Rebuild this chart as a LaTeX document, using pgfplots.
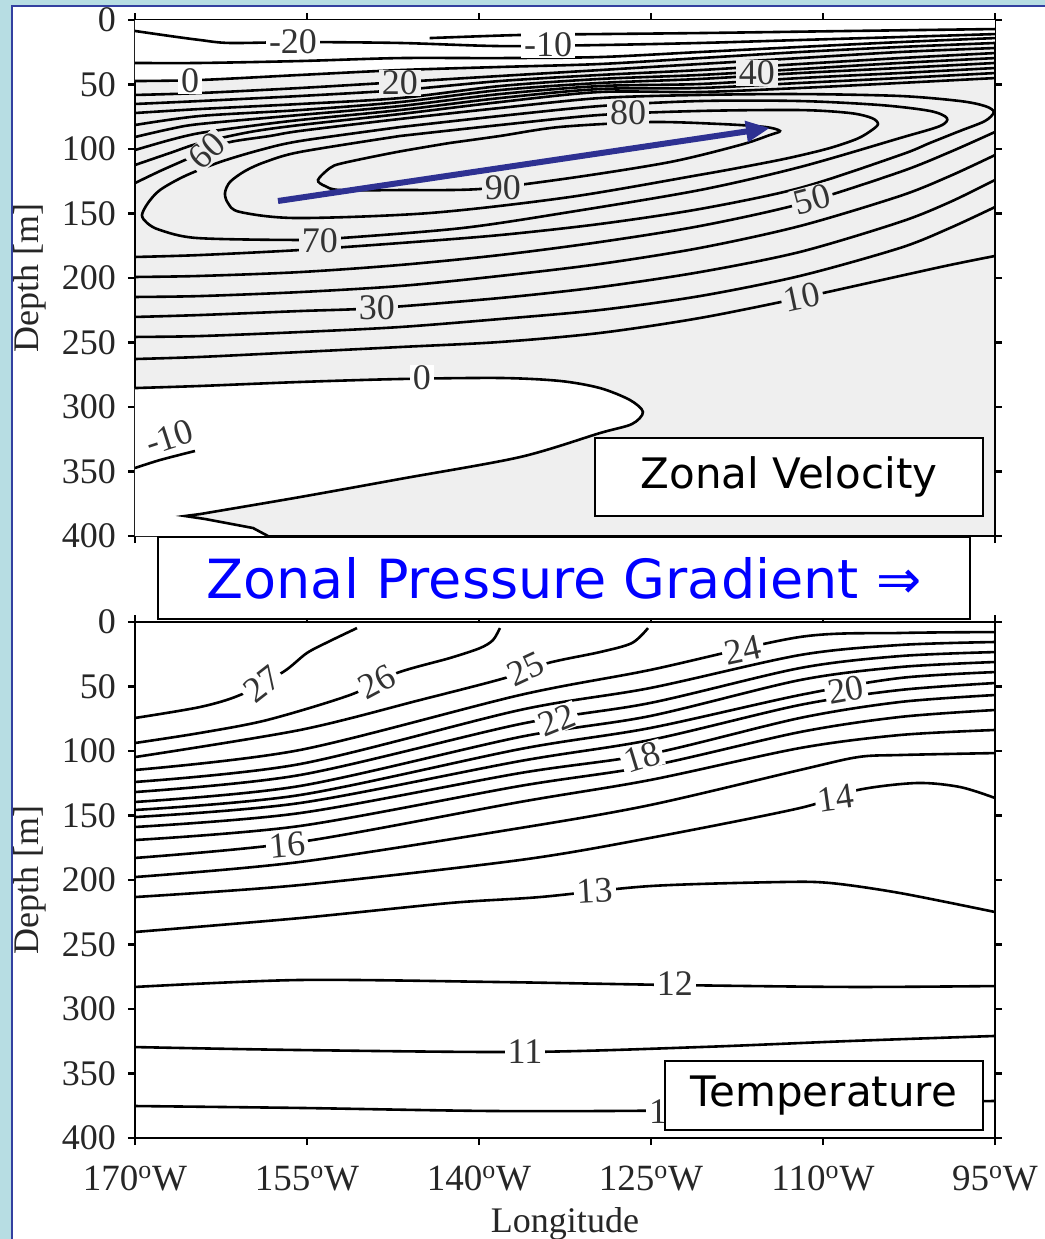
\documentclass[border=0pt]{standalone}
\usepackage{pgfplots}
\pgfplotsset{compat=1.18}
\usepackage{fontspec}
\setmainfont{Liberation Serif}
\newfontfamily\dejavu{DejaVu Sans}
\usetikzlibrary{arrows.meta}

\definecolor{vbg}{gray}{0.937}
\definecolor{slideblue}{HTML}{B7DDE3}
\definecolor{slideline}{HTML}{3340A0}
\definecolor{arrowblue}{HTML}{2E3192}

\pgfplotsset{
  panel/.style={
    scale only axis, width=430pt, height=258pt, anchor=north west,
    xmin=95, xmax=170, x dir=reverse,
    ymin=0, ymax=400, y dir=reverse,
    xtick={95,110,125,140,155,170},
    ytick={0,50,100,150,200,250,300,350,400},
    tick align=outside, tick pos=both,
    major tick length=3.5pt,
    axis line style={line width=1.4pt},
    every tick/.append style={black, line width=1.3pt},
    /pgf/number format/assume math mode=true,
    ticklabel style={font=\fontsize{18}{20}\selectfont, text=black!85},
    xticklabel style={font=\fontsize{18.5}{20}\selectfont, yshift=-7pt},
    yticklabel style={xshift=-2.5pt},
    ylabel={Depth [m]},
    every axis y label/.style={at={(axis description cs:0,0.5)}, xshift=-52.5pt,
      rotate=90, anchor=center, font=\fontsize{18}{20}\selectfont, text=black!85},
  },
  iso/.style={black, line width=1.3pt, smooth, mark=none},
}
\tikzset{clab/.style={font=\fontsize{18}{18}\selectfont, text=black!80, inner xsep=1.5pt, inner ysep=0.5pt}}

\begin{document}
\begin{tikzpicture}
\useasboundingbox (0pt,0pt) rectangle (522.5pt,-619.5pt);
\clip (0pt,0pt) rectangle (522.5pt,-619.5pt);
\fill[white] (0pt,0pt) rectangle (522.5pt,-619.5pt);
\fill[slideblue] (0pt,0pt) rectangle (522.5pt,-2.6pt);
\fill[slideblue] (0pt,0pt) rectangle (5.6pt,-619.5pt);
\draw[slideline, line width=0.9pt] (6.0pt,-619.5pt) -- (6.0pt,-3.0pt) -- (522.5pt,-3.0pt);

% ---------------- zonal velocity (cm/s) ----------------
\begin{axis}[panel, at={(67.5pt,-10pt)}, xticklabels={}, axis background/.style={fill=vbg}]
% westward flow (negative) left unshaded
\addplot[fill=white, draw=none] coordinates {(170,0)(170,47.3)(164.33,46.5)(155.61,42.6)(146.89,38.8)(138.17,36.4)(129.45,34.1)(120.73,29.5)(112.01,24.8)(103.28,20.9)(95,17.8)(95,0)};
\addplot[fill=white, draw=none] coordinates {(170,285.3)(164.33,283.7)(155.61,280.6)(146.89,278.3)(138.17,277.5)(132.94,279.8)(129.45,285.3)(126.83,294.6)(125.70,303.9)(126.66,313.2)(129.45,320.2)(136.42,338.8)(146.89,355.8)(155.61,369.8)(164.33,383.0)(165.64,384.5)(163.90,386.8)(159.71,393.8)(158.40,400)(170,400)};

% upper thermocline bundle
\addplot[iso] coordinates {(144.3,14.0)(136.4,11.6)(129.5,10.9)(120.7,10.1)(107.7,8.5)(95,7.0)};
\addplot[iso] coordinates {(170,8.5)(166.95,12.4)(164.33,15.5)(161.72,17.8)(155.61,17.1)(146.89,17.8)(138.17,20.2)(129.45,19.4)(120.73,17.8)(112.01,15.5)(103.28,13.2)(95,10.9)};
\addplot[iso] coordinates {(170,33.3)(164.33,33.3)(155.61,31.8)(146.89,29.5)(138.17,29.5)(129.45,28.7)(120.73,24.8)(112.01,20.9)(103.28,17.1)(95,14.0)};
\addplot[iso] coordinates {(170,47.3)(164.33,46.5)(155.61,42.6)(146.89,38.8)(138.17,36.4)(129.45,34.1)(120.73,29.5)(112.01,24.8)(103.28,20.9)(95,17.8)};
\addplot[iso] coordinates {(170,58.1)(164.33,56.6)(155.61,52.7)(146.89,48.1)(138.17,43.4)(129.45,38.8)(120.73,34.1)(112.01,29.5)(103.28,24.8)(95,21.7)};
\addplot[iso] coordinates {(170,65.1)(164.33,62.8)(155.61,58.9)(146.89,54.3)(138.17,47.3)(129.45,42.6)(120.73,38.8)(112.01,34.1)(103.28,29.5)(95,25.6)};
\addplot[iso] coordinates {(170,72.1)(164.33,69.0)(155.61,65.1)(146.89,60.5)(138.17,51.2)(129.45,45.7)(120.73,42.6)(112.01,38.0)(103.28,33.3)(95,29.5)};
\addplot[iso] coordinates {(170,81.4)(164.33,74.4)(155.61,69.8)(146.89,63.6)(138.17,54.3)(129.45,48.8)(120.73,45.7)(112.01,41.1)(103.28,37.2)(95,33.3)};
\addplot[iso] coordinates {(170,90.7)(166.95,84.5)(164.33,80.6)(155.61,73.6)(146.89,66.7)(138.17,57.4)(129.45,51.2)(120.73,49.6)(112.01,45.0)(103.28,41.1)(95,37.2)};
\addplot[iso] coordinates {(170,100.8)(166.95,93.0)(164.33,87.6)(159.97,82.2)(155.61,77.5)(146.89,69.8)(138.17,60.5)(129.45,53.5)(120.73,52.7)(112.01,48.8)(103.28,45.0)(95,41.1)};
\addplot[iso] coordinates {(170,112.4)(166.95,103.1)(164.33,95.3)(159.97,86.8)(155.61,81.4)(146.89,72.9)(138.17,63.6)(129.45,55.8)(120.73,55.8)(112.01,52.7)(103.28,48.8)(95,45.0)};
% 60
\addplot[iso] coordinates {(170,126.4)(167.82,117.1)(165.64,108.5)(163.90,101.5)(161.72,94.6)(158.23,89.9)(155.61,86.0)(146.89,76.7)(138.17,68.2)(129.45,60.5)(120.73,58.1)(112.01,57.4)(103.28,58.9)(98.05,62.8)(95.87,66.7)(95.1,71.3)(95.87,78.3)(98.05,86.0)(100.67,95.3)(103.28,104.7)(112.01,130.2)(120.73,146.5)(129.45,158.1)(138.17,166.7)(146.89,172.9)(155.61,178.3)(164.33,182.2)(170,183.7)};
% 70
\addplot[iso] coordinates {(146.89,83.0)(138.17,74.4)(129.45,66.7)(120.73,62.8)(112.01,62.8)(105.03,65.9)(100.67,70.5)(99.19,76.0)(99.80,82.2)(103.28,91.5)(112.01,114.0)(120.73,131.8)(132.06,148.8)(141.40,161.2)(151.86,168.9)(155.87,170.5)(164.59,169.0)(167.82,162.8)(168.95,157.3)(169.39,151.2)(168.87,141.9)(167.82,131.8)(165.64,120.9)(162.59,110.1)(159.10,100.8)(155.61,93.8)(146.89,83.0)};
% 80
\addplot[iso] coordinates {(146.89,89.9)(138.17,81.4)(129.45,73.6)(120.73,70.5)(112.01,69.8)(107.65,72.1)(105.73,76.0)(105.20,80.6)(105.73,85.3)(107.0,92.0)(109.5,99.5)(113.0,107.0)(117.0,114.0)(120.73,120.0)(132.06,137.2)(144.27,149.6)(155.87,153.5)(160.84,148.8)(161.89,141.9)(162.15,134.1)(161.72,125.6)(160.41,117.1)(158.66,110.1)(155.61,102.3)(146.89,89.9)};
% 90
\addplot[iso] coordinates {(142.53,95.3)(138.17,89.9)(132.94,82.9)(125.09,79.1)(118.99,80.6)(115.06,82.9)(113.75,86.0)(114.62,89.1)(117.24,96.9)(123.34,110.1)(132.06,122.5)(139.91,131.0)(146.89,131.8)(152.12,131.8)(153.43,128.7)(154.04,124.0)(152.99,114.7)(151.86,110.9)(147.15,102.3)(142.53,95.3)};
% lower thermocline
\addplot[iso] coordinates {(170,199.2)(164.33,198.4)(155.61,195.4)(146.89,189.9)(138.17,182.2)(129.45,172.1)(120.73,159.7)(112.01,142.6)(103.28,117.8)(98.92,102.3)(95,86.8)};
\addplot[iso] coordinates {(170,214.7)(164.33,214.0)(155.61,210.9)(146.89,206.2)(138.17,198.4)(129.45,189.1)(120.73,176.7)(112.01,159.7)(103.28,136.4)(98.92,120.9)(95,104.7)};
\addplot[iso] coordinates {(170,230.2)(164.33,228.7)(155.61,225.6)(148.90,223.3)(138.17,215.5)(129.45,207.0)(120.73,195.4)(112.01,179.8)(103.28,156.6)(98.92,141.1)(95,124.0)};
\addplot[iso] coordinates {(170,245.7)(164.33,245.0)(155.61,241.9)(146.89,238.0)(138.17,231.8)(129.45,224.8)(120.73,214.0)(112.01,198.4)(103.28,176.7)(98.92,161.2)(95,145.0)};
\addplot[iso] coordinates {(170,262.8)(164.33,261.2)(155.61,257.4)(146.89,253.5)(138.17,249.6)(129.45,242.6)(120.73,231.0)(112.01,215.5)(103.28,198.4)(98.92,189.9)(95,182.9)};
% 0 and -10
\addplot[iso] coordinates {(170,285.3)(164.33,283.7)(155.61,280.6)(146.89,278.3)(138.17,277.5)(132.94,279.8)(129.45,285.3)(126.83,294.6)(125.70,303.9)(126.66,313.2)(129.45,320.2)(136.42,338.8)(146.89,355.8)(155.61,369.8)(164.33,383.0)};
\addplot[iso, sharp plot] coordinates {(164.33,383.0)(165.64,384.5)(163.90,386.8)(159.71,393.8)(158.40,400)};
\addplot[iso] coordinates {(170,347.3)(167.82,341.1)(164.77,334.1)};

\node[clab, fill=white] at (axis cs:156.22,17.1) {-20};
\node[clab, fill=white] at (axis cs:133.98,19.4) {-10};
\node[clab, fill=white] at (axis cs:165.2,47.3) {0};
\node[clab, fill=vbg] at (axis cs:146.89,48.8) {20};
\node[clab, fill=vbg] at (axis cs:115.76,41.1) {40};
\node[clab, fill=vbg, rotate=42] at (axis cs:163.72,101.5) {60};
\node[clab, fill=vbg] at (axis cs:127.0,72.1) {80};
\node[clab, fill=vbg] at (axis cs:137.91,130.3) {90};
\node[clab, fill=vbg] at (axis cs:153.87,171.0) {70};
\node[clab, fill=vbg, rotate=15] at (axis cs:110.96,138.8) {50};
\node[clab, fill=vbg] at (axis cs:148.9,223.3) {30};
\node[clab, fill=vbg, rotate=12] at (axis cs:111.83,214.7) {10};
\node[clab, fill=white] at (axis cs:144.97,277.5) {0};
\node[clab, rotate=18] at (axis cs:167.0,323.5) {-10};

\addplot[arrowblue, line width=3pt, -{Triangle[length=12pt,width=10pt]}] coordinates {(157.53,140.3)(114.62,83.7)};
\end{axis}

% ---------------- temperature (deg C) ----------------
\begin{axis}[panel, at={(67.5pt,-311pt)},
  xticklabels={95\textsuperscript{o}W,110\textsuperscript{o}W,125\textsuperscript{o}W,140\textsuperscript{o}W,155\textsuperscript{o}W,170\textsuperscript{o}W},
  xlabel={Longitude},
  every axis x label/.style={at={(axis description cs:0.5,0)}, anchor=base, yshift=-47pt,
    font=\fontsize{18}{20}\selectfont, text=black!85}]
\addplot[iso] coordinates {(170,74.4)(164.33,65.9)(160.84,56.6)(157.09,38.8)(155.0,24.0)(152.99,14.7)(150.64,4.7)};
\addplot[iso] coordinates {(170,93.8)(164.33,86.0)(158.49,76.0)(151.25,56.6)(147.15,39.5)(142.53,27.9)(139.91,20.2)(138.78,14.0)(138.17,4.7)};
\addplot[iso] coordinates {(170,104.7)(155.61,83.7)(145.15,60.5)(137.73,43.4)(133.98,31.8)(129.45,23.3)(126.66,16.3)(125.26,4.7)};
\addplot[iso] coordinates {(170,114.7)(155.61,99.2)(136.42,56.6)(125.09,37.2)(112.01,11.6)(103.28,8.5)(95,7.8)};
\addplot[iso] coordinates {(170,124.0)(155.61,110.1)(136.42,68.2)(125.09,51.2)(112.01,25.6)(103.28,17.8)(95,15.5)};
\addplot[iso] coordinates {(170,131.8)(155.61,118.6)(136.42,79.1)(125.09,62.8)(112.01,35.7)(103.28,26.4)(95,23.3)};
\addplot[iso] coordinates {(170,139.5)(155.61,127.1)(136.42,89.1)(125.09,72.9)(112.01,45.0)(103.28,34.9)(95,31.0)};
\addplot[iso] coordinates {(170,145.7)(155.61,134.1)(136.42,98.5)(125.09,82.2)(112.01,56.6)(103.28,43.4)(95,38.8)};
\addplot[iso] coordinates {(170,151.2)(155.61,140.3)(136.42,107.8)(125.09,91.5)(112.01,64.3)(103.28,52.7)(95,47.3)};
\addplot[iso] coordinates {(170,158.9)(155.61,148.1)(136.42,117.1)(125.09,102.3)(112.01,74.4)(103.28,62.0)(95,56.6)};
\addplot[iso] coordinates {(170,169.0)(155.61,158.1)(136.42,127.1)(125.09,111.6)(112.01,85.3)(103.28,73.6)(95,68.2)};
\addplot[iso] coordinates {(170,182.9)(155.61,170.5)(136.42,139.5)(125.09,122.5)(112.01,97.7)(103.28,87.6)(95,83.7)};
\addplot[iso] coordinates {(170,197.7)(155.61,186.0)(136.42,159.7)(125.09,141.9)(112.01,114.7)(106.95,104.7)(103.28,103.1)(95,101.6)};
\addplot[iso] coordinates {(170,213.2)(155.61,203.9)(136.42,184.5)(125.09,167.4)(112.01,144.2)(106.95,130.2)(101.80,124.8)(98.05,127.9)(95,136.4)};
\addplot[iso] coordinates {(170,240.3)(155.61,229.5)(142.53,217.8)(134.67,213.2)(125.09,204.7)(113.92,201.6)(109.39,202.3)(103.28,210.1)(95,224.8)};
\addplot[iso] coordinates {(170,282.9)(155.61,277.5)(138.17,279.1)(123.04,281.4)(107.65,282.9)(95,282.2)};
\addplot[iso] coordinates {(170,329.5)(155.61,331.8)(136.0,333.3)(120.73,329.5)(107.65,324.8)(95,320.9)};
\addplot[iso] coordinates {(170,375.2)(155.61,376.7)(138.17,379.1)(120.73,378.3)(107.65,373.6)(95,371.3)};

\node[clab, fill=white, rotate=38] at (axis cs:158.92,48.1) {27};
\node[clab, fill=white, rotate=28] at (axis cs:148.90,46.5) {26};
\node[clab, fill=white, rotate=25] at (axis cs:135.90,36.4) {25};
\node[clab, fill=white, rotate=12] at (axis cs:116.98,21.7) {24};
\node[clab, fill=white, rotate=22] at (axis cs:133.20,76.0) {22};
\node[clab, fill=white, rotate=10] at (axis cs:108.0,52.7) {20};
\node[clab, fill=white, rotate=17] at (axis cs:125.79,104.7) {18};
\node[clab, fill=white, rotate=5] at (axis cs:156.74,172.9) {16};
\node[clab, fill=white, rotate=8] at (axis cs:108.87,136.4) {14};
\node[clab, fill=white, rotate=3] at (axis cs:129.89,208.5) {13};
\node[clab, fill=white] at (axis cs:122.91,280.6) {12};
\node[clab, fill=white] at (axis cs:135.99,333.3) {11};
\node[clab, fill=white] at (axis cs:123.6,379.9) {10};
\end{axis}

% captions
\node[draw=black, line width=0.9pt, fill=white, minimum width=194pt, minimum height=39pt,
  font=\dejavu\fontsize{21}{21}\selectfont] at (394.5pt,-238.5pt) {Zonal Velocity};
\node[draw=black, line width=0.9pt, fill=white, minimum width=406pt, minimum height=41pt,
  font=\dejavu\fontsize{27}{27}\selectfont, text=blue] at (282pt,-289pt) {Zonal Pressure Gradient ⇒};
\node[draw=black, line width=0.9pt, fill=white, minimum width=159pt, minimum height=34.5pt,
  font=\dejavu\fontsize{21}{21}\selectfont] at (412pt,-547.75pt) {Temperature};
\end{tikzpicture}
\end{document}
